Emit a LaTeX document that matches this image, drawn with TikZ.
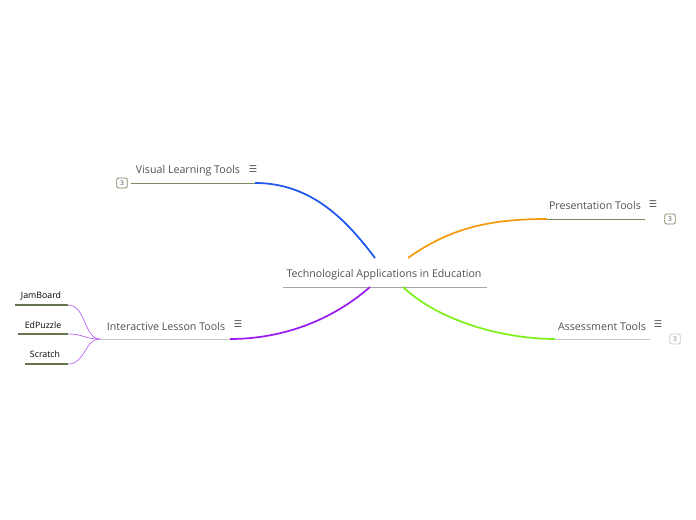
\documentclass[tikz,border=0pt]{standalone}
\usepackage{fontspec}
\setmainfont{Open Sans}
\newfontfamily\symfont{DejaVu Sans}
\usetikzlibrary{positioning}

\definecolor{textgray}{HTML}{505050}
\definecolor{olive}{HTML}{7D8A64}
\definecolor{darkolive}{HTML}{66754F}
\definecolor{linegray}{HTML}{C8C8C8}
\definecolor{vlblue}{HTML}{1E56F0}
\definecolor{ptorange}{HTML}{F59A0C}
\definecolor{atgreen}{HTML}{7FEF1A}
\definecolor{ilpurple}{HTML}{9A1CF0}

\begin{document}
\begin{tikzpicture}[
  x=0.75pt, y=-0.75pt,
  root/.style={font=\fontsize{8}{9}\selectfont, text=textgray, inner sep=1pt},
  topic/.style={font=\fontsize{8}{9}\selectfont, text=textgray, inner sep=1pt},
  leaf/.style={font=\fontsize{6.6}{7}\selectfont, text=black, inner sep=1pt},
  menu/.style={font=\symfont\fontsize{7}{8}\selectfont, text=textgray, inner sep=0pt},
  badge/.style={draw=olive, rounded corners=1.5pt, line width=0.6pt, minimum width=8pt,
    minimum height=7.5pt, inner sep=0pt, font=\fontsize{5}{5}\selectfont, text=textgray},
  branch/.style={line width=1.3pt},
  twig/.style={ilpurple!70, line width=0.5pt}
]
\useasboundingbox (0,0) rectangle (696,520);

% Central topic
\node[root] (root) at (384,275) {Technological Applications in Education};
\draw[gray!70, line width=0.6pt] (283,287) -- (487,287);
\coordinate (rootNW) at (375,258);
\coordinate (rootNE) at (408,258);
\coordinate (rootSW) at (370,287);
\coordinate (rootSE) at (403,287);

% Visual learning tools
\node[topic] (visual) at (188,171) {Visual Learning Tools};
\node[menu] (visualmenu) at (253,169) {☰};
\coordinate (visualR) at (255,183);
\coordinate (visualL) at (131,183);
\node[badge] (visualbadge) at (122,183) {3};
\draw[vlblue, branch] (rootNW) .. controls (345,218) and (310,183) .. (visualR);
\draw[olive, line width=0.6pt] (visualR) -- (visualL);

% Presentation tools
\node[topic] (present) at (595,206) {Presentation Tools};
\node[menu] (presentmenu) at (653,204) {☰};
\coordinate (presentL) at (547,219);
\coordinate (presentR) at (645,219);
\node[badge] (presentbadge) at (670,219) {3};
\draw[ptorange, branch] (rootNE) .. controls (450,228) and (490,219) .. (presentL);
\draw[olive, line width=0.6pt] (presentL) -- (presentR);

% Assessment tools
\node[topic] (assess) at (602,326) {Assessment Tools};
\node[menu] (assessmenu) at (658,324) {☰};
\coordinate (assessL) at (555,339);
\coordinate (assessR) at (650,339);
\node[badge, draw=linegray, text=gray] (assessbadge) at (675,339) {3};
\draw[atgreen, branch] (rootSE) .. controls (440,322) and (505,339) .. (assessL);
\draw[linegray, line width=0.6pt] (assessL) -- (assessR);

% Interactive lesson tools
\node[topic] (lesson) at (166,326) {Interactive Lesson Tools};
\node[menu] (lessonmenu) at (238,324) {☰};
\coordinate (lessonR) at (230,339);
\coordinate (lessonL) at (100,339);
\draw[ilpurple, branch] (rootSW) .. controls (330,322) and (280,339) .. (lessonR);
\draw[linegray, line width=0.6pt] (lessonR) -- (lessonL);

% Lesson tools leaves
\node[leaf] (jam) at (41,296) {JamBoard};
\node[leaf] (edp) at (43,325) {EdPuzzle};
\node[leaf] (scr) at (45,354) {Scratch};
\coordinate (jamR) at (68,305);
\coordinate (edpR) at (68,334);
\coordinate (scrR) at (68,364);
\draw[darkolive, line width=1.5pt] (15,305) -- (jamR);
\draw[darkolive, line width=1.5pt] (18,334) -- (edpR);
\draw[darkolive, line width=1.5pt] (25,364) -- (scrR);
\draw[twig] (lessonL) .. controls (84,339) and (86,305) .. (jamR);
\draw[twig] (lessonL) .. controls (84,339) and (84,334) .. (edpR);
\draw[twig] (lessonL) .. controls (84,339) and (86,364) .. (scrR);

\end{tikzpicture}
\end{document}
